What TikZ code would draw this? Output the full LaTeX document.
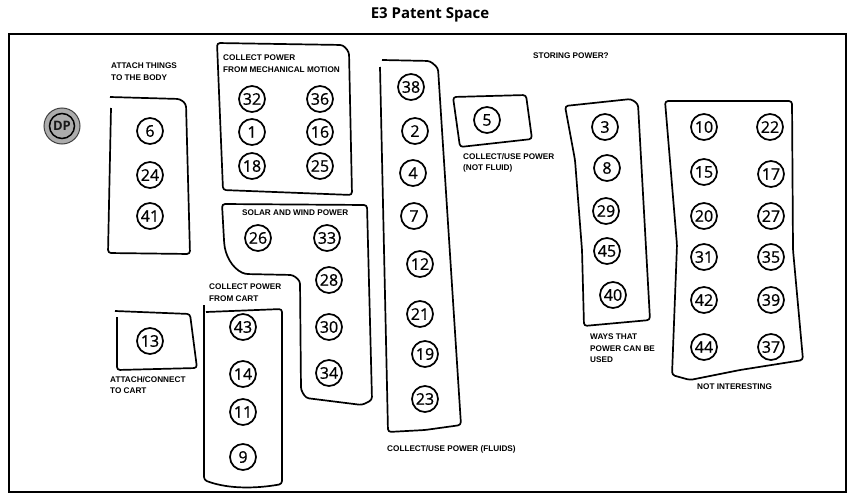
\documentclass[tikz,border=0pt]{standalone}
\usepackage{fontspec}
\setmainfont{Open Sans}
\newfontfamily\lblfont{Liberation Sans}
\newfontfamily\numfont[FakeBold=0.8]{Open Sans}
\begin{document}
\begin{tikzpicture}[x=1pt,y=-1pt,
  num/.style={circle,draw,line width=1.7pt,minimum size=26pt,inner sep=0pt,font=\numfont\fontsize{16}{16}\selectfont},
  lbl/.style={anchor=north west,align=left,inner sep=0pt,font=\lblfont\bfseries\fontsize{8.2}{11.5}\selectfont},
  box/.style={line width=1.7pt,rounded corners=3pt,line join=round}]
\useasboundingbox (0,0) rectangle (850,495);
% title and frame
\node (title) at (430,15) {\fontsize{15}{15}\selectfont\bfseries E3 Patent Space};
\draw[line width=1.3pt] (9,34) rectangle (846,492);
% DP
\node[circle,fill=gray!65,draw=black!75,line width=1pt,minimum size=36pt,inner sep=0pt] (dpo) at (62,126) {};
\node[circle,draw=black,line width=1.5pt,minimum size=25pt,inner sep=0pt,font=\fontsize{13}{13}\selectfont\bfseries,text=black!90] (dp) at (62,126) {DP};
% attach things to the body
\draw[box] (111,108) -- (108,253) -- (190,254) -- (186,104) -- (180,99) -- (110,97);
\node[lbl] (lab1) at (111,63) {ATTACH THINGS\\TO THE BODY};
\node[num] (n6) at (150,131) {6};
\node[num] (n24) at (150,175) {24};
\node[num] (n41) at (150,216) {41};
% collect power from mechanical motion
\draw[box] (217,43) -- (343,45) -- (349,52) -- (352,195) -- (223,190) -- cycle;
\node[lbl] (lab2) at (223,55) {COLLECT POWER\\FROM MECHANICAL MOTION};
\node[num] (n32) at (252,99) {32};
\node[num] (n36) at (320,99) {36};
\node[num] (n1) at (252,132) {1};
\node[num] (n16) at (320,132) {16};
\node[num] (n18) at (252,166) {18};
\node[num] (n25) at (320,166) {25};
% solar and wind power
\draw[box] (222,204) -- (367,205) -- (372,400) -- (362,405) -- (306,398) -- (301,390) -- (300,281) -- (293,275) -- (245,274) .. controls (232,268) and (225,255) .. (224,240) -- cycle;
\node[lbl] (lab3) at (242,210) {SOLAR AND WIND POWER};
\node[num] (n26) at (258,238) {26};
\node[num] (n33) at (327,238) {33};
\node[num] (n28) at (329,280) {28};
\node[num] (n30) at (329,327) {30};
\node[num] (n34) at (329,373) {34};
% collect power from cart
\draw[box] (204,305) -- (204,480) .. controls (230,490) and (260,488) .. (282,484) -- (282,309) -- (206,312);
\node[lbl] (lab4) at (209,284) {COLLECT POWER\\FROM CART};
\node[num] (n43) at (243,327) {43};
\node[num] (n14) at (243,374) {14};
\node[num] (n11) at (243,412) {11};
\node[num] (n9) at (243,457) {9};
% attach/connect to cart
\draw[box] (117,317) -- (117,370) -- (197,368) -- (190,314) -- (115,311);
\node[lbl] (lab5) at (110,376) {ATTACH/CONNECT\\TO CART};
\node[num] (n13) at (150,341) {13};
% collect/use power (fluids)
\draw[box] (380,67) -- (388,432) -- (425,430) -- (461,425) -- (438,68) -- (430,61) -- (382,60);
\node[lbl] (lab6) at (387,445) {COLLECT/USE POWER (FLUIDS)};
\node[num] (n38) at (411,87) {38};
\node[num] (n2) at (415,131) {2};
\node[num] (n4) at (413,173) {4};
\node[num] (n7) at (414,216) {7};
\node[num] (n12) at (420,264) {12};
\node[num] (n21) at (420,314) {21};
\node[num] (n19) at (425,354) {19};
\node[num] (n23) at (425,399) {23};
% collect/use power (not fluid)
\draw[box] (453,97) -- (526,95) -- (532,139) -- (460,147) -- cycle;
\node[lbl] (lab7) at (463,153) {COLLECT/USE POWER\\(NOT FLUID)};
\node[num] (n5) at (487,120) {5};
% storing power?
\node[lbl] (lab8) at (533,53) {STORING POWER?};
% ways that power can be used
\draw[box] (565,106) -- (575,160) -- (582,250) -- (584,326) -- (650,320) -- (638,104) -- (631,99) -- cycle;
\node[lbl] (lab9) at (590,334) {WAYS THAT\\POWER CAN BE\\USED};
\node[num] (n3) at (605,127) {3};
\node[num] (n8) at (607,168) {8};
\node[num] (n29) at (606,211) {29};
\node[num] (n45) at (607,251) {45};
\node[num] (n40) at (613,295) {40};
% not interesting
\draw[box] (665,101) -- (677,245) -- (672,375) -- (690,380) -- (740,370) -- (803,360) -- (793,250) -- (792,101) -- cycle;
\node[lbl] (lab10) at (697,384) {NOT INTERESTING};
\node[num] (n10) at (704,127) {10};
\node[num] (n22) at (770,127) {22};
\node[num] (n15) at (704,172) {15};
\node[num] (n17) at (771,174) {17};
\node[num] (n20) at (704,216) {20};
\node[num] (n27) at (771,216) {27};
\node[num] (n31) at (704,257) {31};
\node[num] (n35) at (771,257) {35};
\node[num] (n42) at (704,300) {42};
\node[num] (n39) at (771,300) {39};
\node[num] (n44) at (704,347) {44};
\node[num] (n37) at (771,347) {37};
\end{tikzpicture}
\end{document}
